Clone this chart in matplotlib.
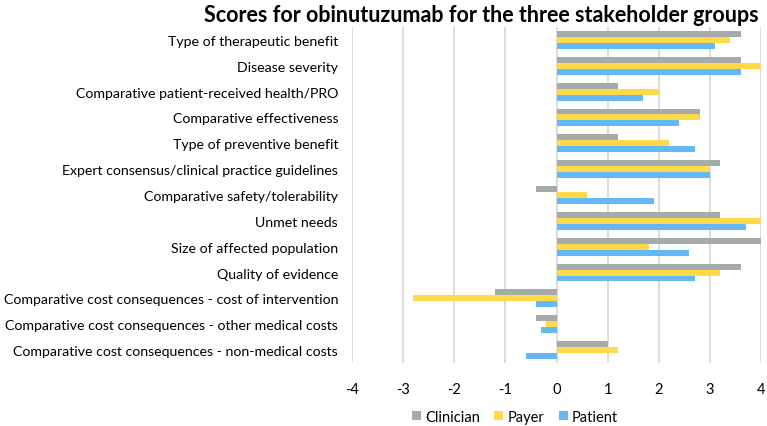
import matplotlib
matplotlib.use('Agg')
import matplotlib.pyplot as plt
import numpy as np

categories = [
    'Type of therapeutic benefit',
    'Disease severity',
    'Comparative patient-received health/PRO',
    'Comparative effectiveness',
    'Type of preventive benefit',
    'Expert consensus/clinical practice guidelines',
    'Comparative safety/tolerability',
    'Unmet needs',
    'Size of affected population',
    'Quality of evidence',
    'Comparative cost consequences - cost of intervention',
    'Comparative cost consequences - other medical costs',
    'Comparative cost consequences - non-medical costs',
]
clinician = [3.6, 3.6, 1.2, 2.8, 1.2, 3.2, -0.4, 3.2, 4.0, 3.6, -1.2, -0.4, 1.0]
payer = [3.4, 4.0, 2.0, 2.8, 2.2, 3.0, 0.6, 4.0, 1.8, 3.2, -2.8, -0.2, 1.2]
patient = [3.1, 3.6, 1.7, 2.4, 2.7, 3.0, 1.9, 3.7, 2.6, 2.7, -0.4, -0.3, -0.6]
x_ticks = [-4, -3, -2, -1, 0, 1, 2, 3, 4]

plt.rcParams['font.family'] = ['Lato', 'DejaVu Sans']

fig = plt.figure(figsize=(7.67, 4.27), dpi=100)
ax = fig.add_axes([352 / 767, 1 - 364 / 427, 409 / 767, 336 / 427])

y = np.arange(len(categories))
h = 0.23
ax.barh(y - h, clinician, height=h, color='#A5ABAA', label='Clinician', zorder=2)
ax.barh(y, payer, height=h, color='#FFD94A', label='Payer', zorder=2)
ax.barh(y + h, patient, height=h, color='#63B8F8', label='Patient', zorder=2)

ax.set_xlim(-4, 4)
ax.set_ylim(len(categories) - 0.5, -0.5)
ax.set_xticks(x_ticks)
ax.set_xticklabels([str(t) for t in x_ticks], fontsize=10.5)
ax.set_yticks(y)
ax.set_yticklabels(categories, fontsize=10.15)
ax.tick_params(axis='both', length=0)
ax.tick_params(axis='x', pad=14)
ax.tick_params(axis='y', pad=10)
ax.grid(axis='x', color='#D9D9D9', linewidth=1.3, zorder=0)
for s in ax.spines.values():
    s.set_visible(False)

fig.legend(loc='center', bbox_to_anchor=(515 / 767, 1 - 418 / 427), ncol=3,
           frameon=False, fontsize=10.5, handlelength=0.6, handleheight=0.6,
           handletextpad=0.3, columnspacing=1.0)

fig.text(481 / 767, 1 - 15 / 427, 'Scores for obinutuzumab for the three stakeholder groups',
         ha='center', va='center', fontsize=15.5, fontweight='bold')

fig.savefig('out.png', dpi=100)
